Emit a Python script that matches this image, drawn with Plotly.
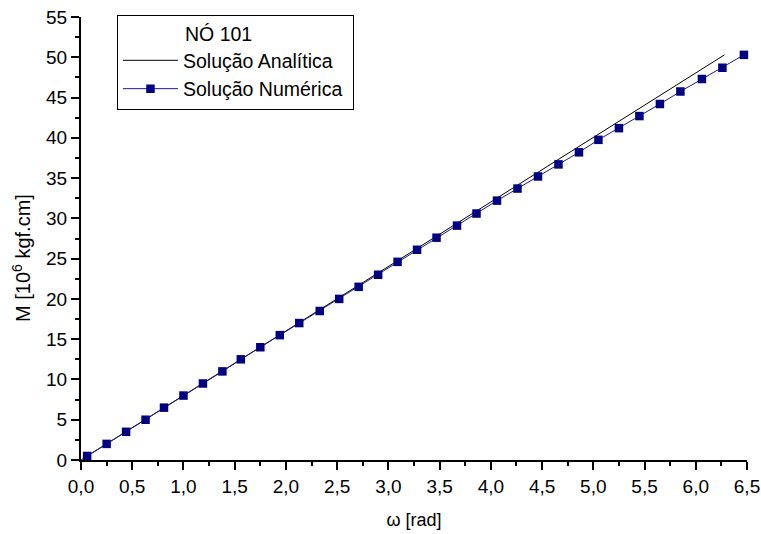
import plotly.graph_objects as go

# Analytic solution (straight line)
analytic_x = [0.0, 6.28]
analytic_y = [0.0, 50.3]

# Numerical solution points
numeric_x = [0.06, 0.25, 0.44, 0.63, 0.81, 1.00, 1.19, 1.38, 1.56, 1.75,
             1.94, 2.13, 2.33, 2.52, 2.71, 2.90, 3.09, 3.28, 3.47, 3.67,
             3.86, 4.06, 4.26, 4.46, 4.66, 4.86, 5.05, 5.25, 5.45, 5.65,
             5.85, 6.06, 6.26, 6.47]
numeric_y = [0.5, 2.0, 3.5, 5.0, 6.5, 8.0, 9.5, 11.0, 12.5, 14.0,
             15.5, 17.0, 18.5, 20.0, 21.5, 23.0, 24.6, 26.1, 27.6, 29.1,
             30.6, 32.2, 33.7, 35.2, 36.7, 38.2, 39.75, 41.2, 42.7, 44.2,
             45.75, 47.3, 48.7, 50.3]

FONT = "Liberation Sans, Arial, sans-serif"

fig = go.Figure()
fig.add_trace(go.Scatter(
    x=analytic_x, y=analytic_y, mode="lines",
    name="Solução Analítica",
    line=dict(color="black", width=1),
))
fig.add_trace(go.Scatter(
    x=numeric_x, y=numeric_y, mode="lines+markers",
    name="Solução Numérica\u00a0",
    line=dict(color="#1a1a99", width=1),
    marker=dict(symbol="square", size=8.5, color="#000080", line=dict(width=0)),
    cliponaxis=False,
))

fig.update_layout(
    width=761, height=534,
    margin=dict(l=81, r=14, t=17, b=74),
    paper_bgcolor="white", plot_bgcolor="white",
    font=dict(family=FONT, size=19, color="black"),
    separators=",.",
    showlegend=True,
    legend=dict(
        x=0.054, y=1.005, xanchor="left", yanchor="top",
        bordercolor="black", borderwidth=1, bgcolor="white",
        title=dict(text="\u00a0" * 12 + "NÓ 101", font=dict(size=19.5)),
        font=dict(size=19.5),
        itemwidth=55,
        tracegroupgap=0,
    ),
    xaxis=dict(
        range=[0, 6.5], tick0=0, dtick=0.5, tickformat=".1f",
        automargin=False,
        showline=True, linecolor="black", linewidth=2,
        ticks="outside", ticklen=8, tickwidth=2, tickcolor="black",
        minor=dict(ticks="outside", ticklen=4, tickwidth=2, dtick=0.25, tickcolor="black"),
        showgrid=False, zeroline=False,
        title=dict(text="ω [rad]", font=dict(size=18), standoff=18),
        tickfont=dict(size=19),
    ),
    yaxis=dict(
        range=[0, 55], tick0=0, dtick=5,
        automargin=False,
        showline=True, linecolor="black", linewidth=2,
        ticks="outside", ticklen=8, tickwidth=2, tickcolor="black",
        minor=dict(ticks="outside", ticklen=4, tickwidth=2, dtick=2.5, tickcolor="black"),
        showgrid=False, zeroline=False,
        tickfont=dict(size=19),
    ),
    annotations=[dict(
        text="M [10<sup>6</sup> kgf.cm]", textangle=-90,
        xref="paper", yref="paper", x=-0.0886, y=0.456,
        xanchor="center", yanchor="middle", showarrow=False,
        font=dict(size=20),
    )],
)

fig.write_html("out.html")
